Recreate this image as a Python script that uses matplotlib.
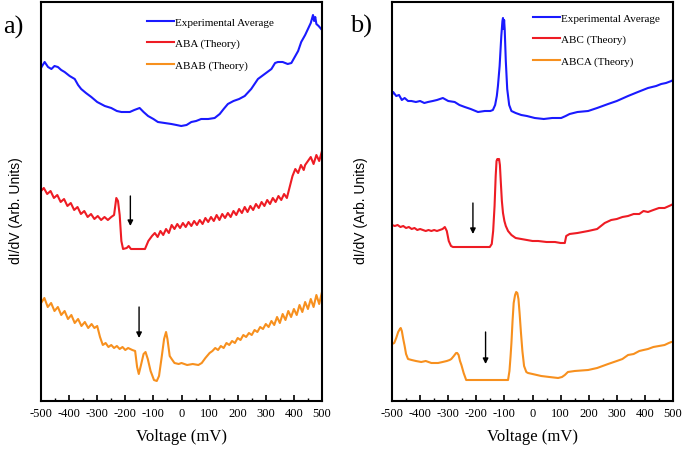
import matplotlib
matplotlib.use("Agg")
import matplotlib.pyplot as plt

plt.rcParams['axes.unicode_minus'] = False

# voltage (mV) and dI/dV in arbitrary units (curves offset vertically)
ticks_mv = [-500, -400, -300, -200, -100, 0, 100, 200, 300, 400, 500]

# ---- panel a ----
exp_a_v = [-500, -496, -487, -475, -463, -452, -440, -428, -416, -398, -380, -368, -357, -340,
           -321, -300, -273, -250, -230, -214, -200, -184, -168, -149, -135, -119, -100, -84,
           -60, -36, -18, -1, 18, 35, 52, 70, 95, 118, 136, 150, 165, 185, 205, 225, 248, 272,
           296, 320, 333, 343, 360, 378, 391, 403, 415, 426, 440, 450, 460, 466, 468, 472, 476,
           480, 488, 497, 500]
exp_a = [333, 335, 339, 334, 332, 335, 334, 331, 329, 325, 322, 316, 312, 308, 304, 299, 295,
         293, 290, 289, 289, 289, 291, 293, 289, 285, 282, 279, 278, 277, 276, 275, 276, 279,
         280, 282, 282, 283, 287, 292, 297, 300, 302, 305, 312, 322, 327, 332, 338, 339, 339,
         337, 338, 344, 350, 359, 366, 372, 378, 384, 386, 380, 384, 377, 375, 372, 371]

aba_v = [-500, -490, -478, -466, -454, -442, -430, -418, -406, -394, -382, -370, -358, -346,
         -334, -322, -310, -298, -286, -274, -262, -250, -240, -232, -226, -220, -214, -208,
         -195, -188, -180, -130, -118, -105, -95, -85, -75, -65, -55, -45, -35, -25, -15, -5,
         5, 15, 25, 35, 45, 55, 65, 75, 85, 95, 105, 115, 125, 135, 145, 155, 165, 175, 185,
         195, 205, 215, 225, 235, 245, 255, 265, 275, 285, 295, 305, 315, 325, 335, 345, 355,
         365, 375, 385, 395, 405, 415, 425, 435, 440, 450, 460, 470, 480, 490, 500]
aba = [210, 213, 207, 210, 203, 206, 199, 202, 195, 198, 191, 194, 187, 190, 184, 187, 182,
       185, 181, 184, 181, 184, 186, 203, 200, 186, 160, 152, 153, 155, 152, 152, 160, 165,
       168, 164, 170, 166, 172, 168, 176, 172, 177, 173, 178, 174, 179, 175, 180, 176, 181,
       177, 183, 179, 184, 180, 186, 181, 187, 183, 188, 184, 190, 186, 192, 188, 194, 189,
       195, 191, 197, 193, 199, 195, 201, 197, 203, 199, 205, 201, 207, 203, 214, 225, 232,
       228, 236, 231, 236, 240, 244, 237, 246, 240, 250]

abab_v = [-500, -488, -476, -464, -452, -440, -428, -416, -404, -392, -380, -368, -356, -344,
          -332, -320, -310, -300, -290, -280, -270, -260, -250, -240, -230, -220, -210, -200,
          -190, -175, -165, -158, -152, -145, -135, -128, -120, -110, -98, -88, -80, -70, -62,
          -55, -50, -42, -35, -25, -10, 0, 20, 40, 60, 72, 85, 100, 110, 120, 130, 140, 150,
          160, 170, 180, 190, 200, 210, 220, 230, 240, 250, 260, 270, 280, 290, 300, 310, 320,
          330, 340, 350, 360, 370, 380, 390, 400, 410, 420, 430, 440, 450, 460, 470, 480, 490,
          500]
abab = [98, 103, 94, 98, 90, 94, 86, 90, 82, 86, 78, 82, 75, 79, 73, 77, 73, 75, 64, 56, 58,
        54, 56, 53, 55, 52, 54, 51, 53, 51, 50, 34, 27, 35, 47, 49, 42, 30, 21, 20, 25, 45, 62,
        69, 62, 45, 42, 38, 37, 38, 36, 37, 36, 38, 43, 48, 50, 53, 51, 55, 53, 58, 56, 60, 58,
        63, 61, 66, 64, 68, 66, 71, 69, 74, 72, 77, 74, 80, 76, 84, 78, 87, 81, 90, 84, 92, 86,
        96, 89, 99, 92, 102, 94, 106, 97, 109]

# ---- panel b ----
exp_b_v = [-500, -496, -485, -475, -465, -455, -443, -431, -415, -400, -385, -372, -355, -340,
           -319, -300, -277, -260, -241, -220, -194, -170, -150, -141, -133, -127, -123, -117,
           -111, -107, -105, -103, -101, -99, -95, -90, -83, -75, -60, -40, -20, 8, 40, 70,
           102, 118, 132, 160, 198, 230, 269, 300, 340, 375, 411, 440, 458, 475, 494, 500]
exp_b = [306, 309, 305, 306, 301, 303, 300, 300, 299, 300, 298, 299, 300, 301, 303, 300, 299,
         296, 294, 292, 289, 290, 290, 291, 296, 305, 315, 335, 365, 380, 383, 372, 381, 372,
         340, 312, 296, 290, 288, 286, 285, 283, 282, 283, 283, 285, 287, 289, 290, 293, 297,
         300, 305, 309, 313, 315, 317, 318, 320, 321]

abc_v = [-500, -490, -480, -470, -460, -450, -440, -430, -420, -410, -400, -390, -380, -370,
         -360, -350, -340, -330, -320, -312, -305, -298, -290, -283, -250, -200, -152, -145,
         -140, -135, -131, -128, -125, -122, -119, -116, -113, -109, -105, -100, -95, -87,
         -75, -60, -40, -20, 0, 20, 50, 80, 100, 115, 120, 132, 160, 198, 230, 257, 280, 300,
         320, 340, 360, 380, 395, 411, 430, 450, 470, 494, 500]
abc = [176, 175, 176, 174, 175, 173, 174, 172, 173, 171, 172, 171, 170, 171, 170, 171, 170,
       171, 172, 174, 170, 160, 155, 154, 154, 154, 154, 157, 170, 195, 225, 240, 242, 241,
       242, 236, 220, 200, 188, 180, 175, 170, 166, 163, 162, 161, 160, 160, 159, 159, 158,
       158, 165, 167, 168, 170, 172, 178, 181, 182, 184, 185, 187, 187, 190, 189, 191, 193,
       193, 196, 197]

abca_v = [-500, -492, -485, -478, -472, -469, -465, -460, -455, -450, -443, -430, -415, -396,
          -380, -360, -336, -320, -305, -295, -289, -280, -272, -268, -263, -258, -253, -245,
          -236, -200, -150, -100, -87, -82, -78, -75, -71, -67, -62, -58, -54, -50, -46, -41,
          -36, -30, -22, -16, 0, 31, 60, 91, 105, 115, 126, 150, 198, 230, 269, 300, 320, 340,
          360, 380, 395, 411, 430, 450, 470, 485, 494, 500]
abca = [57, 58, 63, 69, 72, 73, 70, 62, 55, 47, 42, 41, 40, 39, 40, 38, 38, 39, 40, 41, 42,
        45, 48, 48, 46, 40, 36, 28, 21, 21, 21, 21, 21, 30, 45, 58, 80, 98, 106, 109, 108,
        102, 88, 68, 50, 35, 29, 28, 27, 25, 24, 23, 24, 26, 29, 30, 31, 33, 37, 40, 42, 46,
        47, 50, 51, 52, 54, 55, 56, 58, 59, 59]

# arrows: (voltage, tail, tip)
arrows_a = [(-182, 205, 175), (-151, 94, 63)]
arrows_b = [(-212, 198, 167), (-167, 69, 37)]

blue = '#1a1aff'
red = '#ee1c24'
orange = '#f7901e'

fig = plt.figure(figsize=(6.85, 4.52), dpi=100)
ax_a = fig.add_axes([41 / 685, 50 / 452, 281 / 685, 399 / 452])
ax_b = fig.add_axes([392 / 685, 50 / 452, 281 / 685, 399 / 452])

panels = [
    (ax_a, exp_a_v, exp_a, aba_v, aba, abab_v, abab, 'ABA (Theory)', 'ABAB (Theory)',
     arrows_a, (0.377, 0.963), -0.064),
    (ax_b, exp_b_v, exp_b, abc_v, abc, abca_v, abca, 'ABC (Theory)', 'ABCA (Theory)',
     arrows_b, (0.502, 0.973), -0.085),
]

for ax, ev, ey, tv, ty, qv, qy, lab1, lab2, arrows, leg_pos, ylab_x in panels:
    ax.plot(ev, ey, color=blue, lw=1.5, label='Experimental Average')
    ax.plot(tv, ty, color=red, lw=1.5, label=lab1)
    ax.plot(qv, qy, color=orange, lw=1.5, label=lab2)
    for v, tail, tip in arrows:
        ax.annotate('', xy=(v, tip), xytext=(v, tail),
                    arrowprops=dict(arrowstyle='-|>', color='black', lw=1.0,
                                    mutation_scale=8, shrinkA=0, shrinkB=0))
    ax.set_xlim(-500, 500)
    ax.set_ylim(0, 399)
    ax.set_yticks([])
    ax.set_xticks(ticks_mv)
    ax.set_xticklabels([str(t) for t in ticks_mv], family='Liberation Serif', fontsize=9)
    ax.set_xticks(range(-450, 500, 100), minor=True)
    ax.tick_params(axis='x', which='major', direction='in', length=4, width=1.2, pad=4)
    ax.tick_params(axis='x', which='minor', direction='in', length=2.5, width=1.0)
    for s in ax.spines.values():
        s.set_linewidth(1.5)
    ax.set_xlabel('Voltage (mV)', family='Liberation Serif', fontsize=12, labelpad=7)
    ax.set_ylabel('dI/dV (Arb. Units)', family='Liberation Sans', fontsize=10)
    ax.yaxis.set_label_coords(ylab_x, 0.48)
    ax.legend(loc='upper left', bbox_to_anchor=leg_pos, frameon=False,
              prop={'family': 'Liberation Serif', 'size': 8}, handlelength=2.4,
              handletextpad=0.15, labelspacing=1.05, borderpad=0, borderaxespad=0)

fig.text(13 / 685, 1 - 27 / 452, 'a)', family='Liberation Serif', fontsize=19,
         ha='center', va='center')
fig.text(361 / 685, 1 - 26 / 452, 'b)', family='Liberation Serif', fontsize=19,
         ha='center', va='center')

fig.savefig('out.png', dpi=100)
